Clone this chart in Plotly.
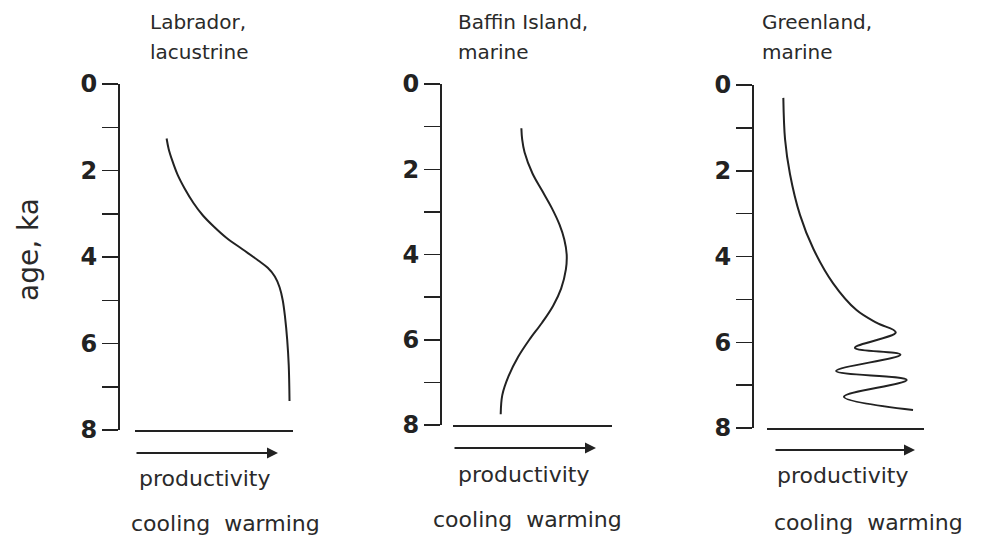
import plotly.graph_objects as go

# ---------------- data ----------------
age_ticks = [0, 1, 2, 3, 4, 5, 6, 7, 8]
age_tick_labels = ["0", "", "2", "", "4", "", "6", "", "8"]

title_line1 = ["Labrador,", "Baffin Island,", "Greenland,"]
title_line2 = ["lacustrine", "marine", "marine"]
axis_label = "age, ka"
arrow_label = "productivity"
direction_label = "cooling  warming"

# relative productivity (0 = cooling side, 1 = warming side) vs age (ka)
lab_prod = [0.20, 0.213, 0.235, 0.27, 0.315, 0.37, 0.43, 0.50, 0.58, 0.68,
            0.78, 0.84, 0.885, 0.915, 0.935, 0.95, 0.963, 0.973, 0.978]
lab_age = [1.26, 1.50, 1.76, 2.10, 2.42, 2.75, 3.04, 3.30, 3.56, 3.82,
           4.08, 4.25, 4.45, 4.70, 5.00, 5.40, 5.90, 6.50, 7.33]

baf_prod = [0.43, 0.435, 0.45, 0.50, 0.56, 0.62, 0.67, 0.70, 0.715, 0.71, 0.68,
            0.63, 0.56, 0.48, 0.41, 0.35, 0.31, 0.30]
baf_age = [1.04, 1.30, 1.60, 2.10, 2.50, 2.90, 3.30, 3.65, 4.00, 4.35, 4.80,
           5.20, 5.60, 6.00, 6.40, 6.85, 7.30, 7.75]

grn_prod = [0.104, 0.115, 0.146, 0.21, 0.295, 0.42, 0.57, 0.70, 0.82,
            0.56, 0.85, 0.44, 0.89, 0.49, 0.93]
grn_age = [0.30, 1.27, 2.07, 3.03, 3.82, 4.62, 5.25, 5.55, 5.77,
           6.13, 6.29, 6.67, 6.88, 7.27, 7.58]

series = [(lab_prod, lab_age), (baf_prod, baf_age), (grn_prod, grn_age)]

# ---------------- layout helpers (pixels) ----------------
W, H = 981, 539
INK = "#222222"
TXT = "#2a2a2a"
FONT = "DejaVu Sans"

def px(x):
    return x / W

def py(y):
    return 1 - y / H

panels = [
    dict(ax=119, top=84, bot=430, b0=135, b1=293, ay=453, a0=135, a1=278, tx=148, prx=205, pry=478, dx=225, dy=523),
    dict(ax=441, top=84, bot=425, b0=453, b1=612, ay=448, a0=453, a1=596, tx=456, prx=524, pry=474, dx=527, dy=519),
    dict(ax=753, top=85, bot=428, b0=767, b1=924, ay=450, a0=774, a1=915, tx=760, prx=843, pry=475, dx=868, dy=522),
]

fig = go.Figure()
annotations = []

for i, (p, (xs, ys)) in enumerate(zip(panels, series)):
    n = "" if i == 0 else str(i + 1)
    xa = "x" + n
    ya = "y" + n
    fig.add_trace(go.Scatter(
        x=xs, y=ys, mode="lines", xaxis=xa, yaxis=ya,
        line=dict(color=INK, width=2, shape="spline", smoothing=1.0),
        showlegend=False, hoverinfo="skip",
    ))
    fig.update_layout(**{
        "xaxis" + n: dict(
            domain=[px(p["b0"]), px(p["b1"])], range=[0, 1], anchor=ya,
            showline=True, linecolor=INK, linewidth=2, showgrid=False,
            zeroline=False, showticklabels=False, ticks="", automargin=False,
        ),
        "yaxis" + n: dict(
            domain=[py(p["bot"]), py(p["top"])], range=[8, 0], anchor="free",
            position=px(p["ax"]), showline=True, linecolor=INK, linewidth=2,
            showgrid=False, zeroline=False, tickmode="array",
            tickvals=age_ticks, ticktext=age_tick_labels, ticks="outside",
            ticklen=16, tickwidth=1.5, tickcolor=INK, automargin=False,
            tickfont=dict(family="DejaVu Sans", size=24, color=INK, weight="bold"),
        ),
    })
    x0 = (p["a0"] - p["b0"]) / (p["b1"] - p["b0"])
    x1 = (p["a1"] - p["b0"]) / (p["b1"] - p["b0"])
    annotations.append(dict(
        x=x1, y=py(p["ay"]), xref=xa, yref="paper",
        ax=x0, ay=0, axref=xa, ayref="pixel",
        showarrow=True, arrowhead=2, arrowsize=1.1, arrowwidth=2,
        arrowcolor=INK, text="",
    ))
    for txt, yy in ((title_line1[i], 22), (title_line2[i], 52)):
        annotations.append(dict(
            x=px(p["tx"]), y=py(yy), xref="paper", yref="paper",
            text=txt, showarrow=False, xanchor="left", yanchor="middle",
            font=dict(family=FONT, size=20, color=TXT),
        ))
    annotations.append(dict(
        x=px(p["prx"]), y=py(p["pry"]), xref="paper", yref="paper",
        text=arrow_label, showarrow=False, xanchor="center", yanchor="middle",
        font=dict(family=FONT, size=22, color=TXT),
    ))
    annotations.append(dict(
        x=px(p["dx"]), y=py(p["dy"]), xref="paper", yref="paper",
        text=direction_label.replace(" ", "&nbsp;"), showarrow=False,
        xanchor="center", yanchor="middle",
        font=dict(family=FONT, size=22, color=TXT),
    ))

annotations.append(dict(
    x=px(28), y=py(250), xref="paper", yref="paper", text=axis_label,
    showarrow=False, textangle=-90, xanchor="center", yanchor="middle",
    font=dict(family=FONT, size=28, color=TXT),
))

fig.update_layout(
    width=W, height=H, margin=dict(l=0, r=0, t=0, b=0, pad=0),
    paper_bgcolor="white", plot_bgcolor="white",
    annotations=annotations, showlegend=False,
)

fig.write_html(
    "out.html",
    config={"displayModeBar": False, "staticPlot": True},
    post_script="document.body.style.margin='0';",
)
